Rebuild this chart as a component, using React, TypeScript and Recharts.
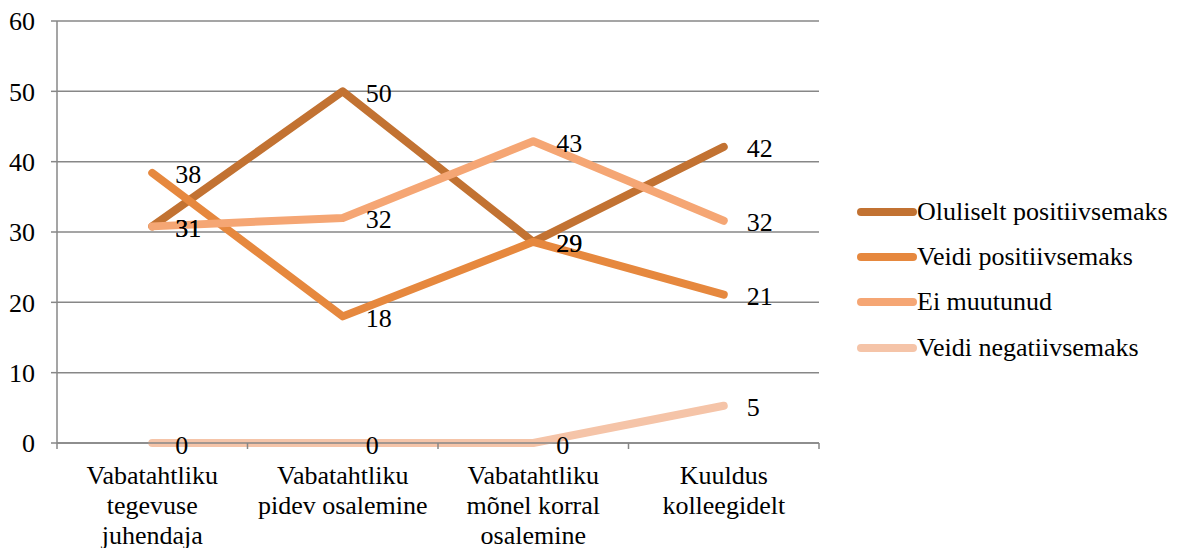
import React from 'react';
import { LineChart, Line, XAxis, YAxis, CartesianGrid } from 'recharts';

const categories = [
  'Vabatahtliku\ntegevuse\njuhendaja',
  'Vabatahtliku\npidev osalemine',
  'Vabatahtliku\nmõnel korral\nosalemine',
  'Kuuldus\nkolleegidelt',
];
const seriesNames = [
  'Oluliselt positiivsemaks',
  'Veidi positiivsemaks',
  'Ei muutunud',
  'Veidi negatiivsemaks',
];
const oluliseltPositiivsemaks = [30.8, 50, 28.6, 42.1];
const veidiPositiivsemaks = [38.4, 18, 28.6, 21.1];
const eiMuutunud = [30.8, 32, 42.9, 31.6];
const veidiNegatiivsemaks = [0, 0, 0, 5.3];
const yTicks = [0, 10, 20, 30, 40, 50, 60];

const seriesColors = ['#C27232', '#E6883E', '#F5A674', '#F5C4A8'];
const seriesValues = [oluliseltPositiivsemaks, veidiPositiivsemaks, eiMuutunud, veidiNegatiivsemaks];

const FONT = "'Liberation Serif', 'Times New Roman', serif";
const FONT_SIZE = 26;
const AXIS_COLOR = '#878787';

const WIDTH = 1178;
const HEIGHT = 548;
const PLOT_LEFT = 57;
const PLOT_RIGHT = 819;
const HALF_BAND = (PLOT_RIGHT - PLOT_LEFT) / categories.length / 2;

const data = categories.map((name, i) => {
  const row: Record<string, string | number> = { name };
  seriesNames.forEach((s, j) => {
    row[s] = seriesValues[j][i];
  });
  return row;
});

// category labels with tick marks on the band edges, like Excel
function CategoryTick(props: any) {
  const { x, y, payload, index } = props;
  const lines = String(payload.value).split('\n');
  const isLast = index === categories.length - 1;
  return (
    <g>
      <line x1={x - HALF_BAND} x2={x - HALF_BAND} y1={y} y2={y + 6} stroke={AXIS_COLOR} strokeWidth={1.5} />
      {isLast && (
        <line x1={x + HALF_BAND} x2={x + HALF_BAND} y1={y} y2={y + 6} stroke={AXIS_COLOR} strokeWidth={1.5} />
      )}
      <text x={x} y={y + 41} textAnchor="middle" fontSize={FONT_SIZE} fontFamily={FONT} fill="#000">
        {lines.map((line, i) => (
          <tspan key={i} x={x} dy={i === 0 ? 0 : 30}>
            {line}
          </tspan>
        ))}
      </text>
    </g>
  );
}

const renderValueLabel = (props: any) => {
  const { x, y, value } = props;
  return (
    <text x={x + 23} y={y + 2} dominantBaseline="central" fontSize={FONT_SIZE} fontFamily={FONT} fill="#000">
      {Math.round(value)}
    </text>
  );
};

function ChartLegend() {
  return (
    <div style={{ position: 'absolute', left: 857, top: 189, fontFamily: FONT, fontSize: FONT_SIZE }}>
      {seriesNames.map((name, i) => (
        <div key={name} style={{ display: 'flex', alignItems: 'center', height: 45.3 }}>
          <svg width={60} height={10} style={{ display: 'block' }}>
            <line x1={4} x2={56} y1={5} y2={5} stroke={seriesColors[i]} strokeWidth={8} strokeLinecap="round" />
          </svg>
          <span style={{ lineHeight: 1, color: '#000', whiteSpace: 'nowrap' }}>{name}</span>
        </div>
      ))}
    </div>
  );
}

export default function App() {
  return (
    <div style={{ position: 'absolute', left: 0, top: 0, width: WIDTH, height: HEIGHT, background: '#fff', fontFamily: FONT }}>
      <LineChart
        width={WIDTH}
        height={HEIGHT}
        data={data}
        margin={{ top: 21, right: WIDTH - PLOT_RIGHT, left: 0, bottom: 0 }}
      >
        <CartesianGrid vertical={false} stroke={AXIS_COLOR} strokeWidth={1.5} />
        <XAxis
          dataKey="name"
          interval={0}
          height={105}
          padding={{ left: HALF_BAND, right: HALF_BAND }}
          axisLine={{ stroke: AXIS_COLOR, strokeWidth: 1.5 }}
          tickLine={false}
          tickSize={0}
          tickMargin={0}
          tick={<CategoryTick />}
        />
        <YAxis
          width={PLOT_LEFT}
          domain={[0, 60]}
          ticks={yTicks}
          interval={0}
          axisLine={{ stroke: AXIS_COLOR, strokeWidth: 1.5 }}
          tickLine={{ stroke: AXIS_COLOR, strokeWidth: 1.5 }}
          tickSize={6}
          tickMargin={16}
          tick={{ fill: '#000', fontSize: FONT_SIZE, fontFamily: FONT }}
        />
        {seriesNames.map((name, i) => (
          <Line
            key={name}
            type="linear"
            dataKey={name}
            stroke={seriesColors[i]}
            strokeWidth={8}
            strokeLinecap="round"
            strokeLinejoin="round"
            dot={false}
            activeDot={false}
            label={renderValueLabel}
            isAnimationActive={false}
          />
        ))}
      </LineChart>
      <ChartLegend />
    </div>
  );
}
